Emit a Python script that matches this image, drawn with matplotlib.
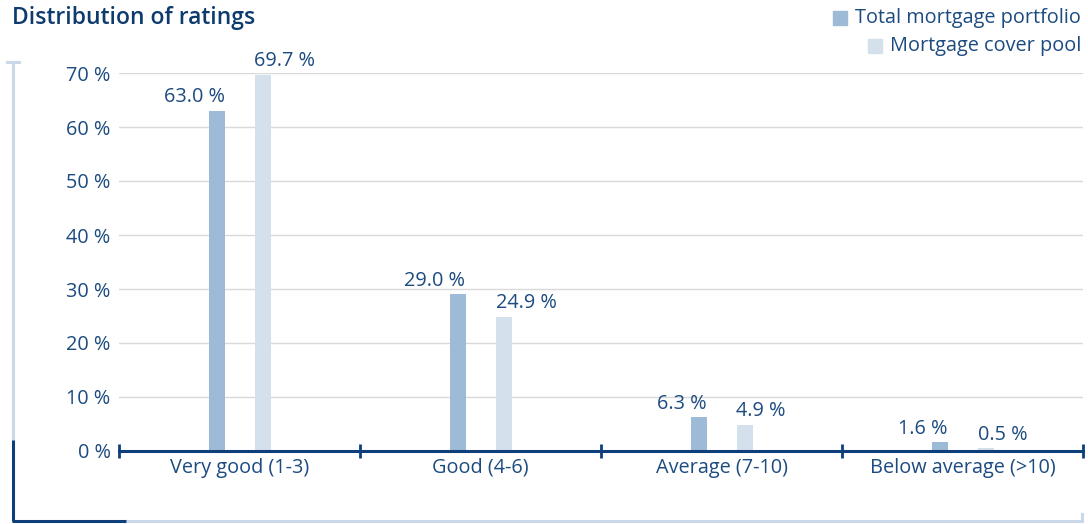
import matplotlib
matplotlib.use("Agg")
import matplotlib.pyplot as plt
from matplotlib.lines import Line2D
from matplotlib.patches import Rectangle
import numpy as np

categories = ["Very good (1-3)", "Good (4-6)", "Average (7-10)", "Below average (>10)"]
total_portfolio = [63.0, 29.0, 6.3, 1.6]
cover_pool = [69.7, 24.9, 4.9, 0.5]
series_names = ["Total mortgage portfolio", "Mortgage cover pool"]
yticks = [0, 10, 20, 30, 40, 50, 60, 70]
ytick_labels = ["0 %", "10 %", "20 %", "30 %", "40 %", "50 %", "60 %", "70 %"]
title = "Distribution of ratings"

DARK_BAR = "#9dbbd6"
LIGHT_BAR = "#d4e1ed"
NAVY = "#0e3f7a"
TEXT = "#1c4b80"
FRAME_LIGHT = "#c9d9ea"
FS = 14.3

plt.rcParams['font.family'] = ['Open Sans', 'DejaVu Sans']

W, H = 1088, 524
fig = plt.figure(figsize=(W / 100, H / 100), dpi=100)

def fx(px):
    return px / W

def fy(py):
    return 1 - py / H

ax = fig.add_axes([fx(119), fy(451), fx(1083) - fx(119), fy(73) - fy(451)])

x = np.arange(len(categories))
bw = 16 / 241
off = 23 / 241

ax.bar(x - off, total_portfolio, width=bw, color=DARK_BAR, zorder=3)
ax.bar(x + off, cover_pool, width=bw, color=LIGHT_BAR, zorder=3)

for xi, v in zip(x, total_portfolio):
    ax.annotate(f"{v:.1f} %", (xi - off + bw / 2, v), xytext=(0, 6),
                textcoords="offset points", ha="right", va="baseline",
                fontsize=FS, color=TEXT, clip_on=False)
for xi, v in zip(x, cover_pool):
    ax.annotate(f"{v:.1f} %", (xi + off - bw / 2, v), xytext=(0, 6),
                textcoords="offset points", ha="left", va="baseline",
                fontsize=FS, color=TEXT, clip_on=False)

ax.set_xlim(-0.5, len(categories) - 0.5)
ax.set_ylim(0, 70)

ax.set_yticks(yticks)
ax.set_yticklabels(ytick_labels)
ax.tick_params(axis="y", length=0, pad=6, labelsize=FS, labelcolor=TEXT)

ax.set_xticks(x)
ax.set_xticklabels(categories)
ax.tick_params(axis="x", which="major", length=0, pad=5, labelsize=FS, labelcolor=TEXT)
ax.set_xticks(np.arange(-0.5, len(categories)), minor=True)
ax.tick_params(axis="x", which="minor", direction="inout", length=10, width=2, color=NAVY)

ax.grid(axis="y", color="#d9d9d9", linewidth=1, zorder=0)
for s in ["top", "right", "left"]:
    ax.spines[s].set_visible(False)
ax.spines["bottom"].set_color(NAVY)
ax.spines["bottom"].set_linewidth(2.2)
ax.spines["bottom"].set_zorder(4)

# Title
fig.text(fx(12), fy(18), title, fontsize=16.5, fontweight="semibold", color="#0d3b6e",
         ha="left", va="center")

# Legend (manual, right aligned)
leg_rows = [(series_names[0], DARK_BAR, 18), (series_names[1], LIGHT_BAR, 46)]
for name, col, ypx in leg_rows:
    fig.text(fx(1081), fy(ypx), name, fontsize=FS, color=TEXT, ha="right", va="center")
fig.canvas.draw()
renderer = fig.canvas.get_renderer()
for t, (name, col, ypx) in zip(fig.texts[1:], leg_rows):
    bb = t.get_window_extent(renderer)
    left_px = bb.x0
    sq = 14
    fig.patches.append(Rectangle((fx(left_px - 8 - sq), fy(ypx + sq / 2)), fx(sq), sq / H,
                                 transform=fig.transFigure, color=col, figure=fig))

# Decorative frame
lw = 2.2
fig.add_artist(Line2D([fx(13), fx(13)], [fy(62), fy(440)], color=FRAME_LIGHT, lw=lw,
                      transform=fig.transFigure))
fig.add_artist(Line2D([fx(7), fx(19)], [fy(62), fy(62)], color=FRAME_LIGHT, lw=lw,
                      transform=fig.transFigure))
fig.add_artist(Line2D([fx(13), fx(13)], [fy(440), fy(521)], color=NAVY, lw=lw,
                      transform=fig.transFigure, solid_capstyle="butt"))
fig.add_artist(Line2D([fx(126), fx(1082)], [fy(521), fy(521)], color=FRAME_LIGHT, lw=lw,
                      transform=fig.transFigure, solid_capstyle="butt"))
fig.add_artist(Line2D([fx(1082), fx(1082)], [fy(514), fy(521)], color=FRAME_LIGHT, lw=lw,
                      transform=fig.transFigure))
fig.add_artist(Line2D([fx(12), fx(126)], [fy(521), fy(521)], color=NAVY, lw=lw,
                      transform=fig.transFigure, solid_capstyle="butt"))

fig.savefig("out.png", dpi=100)
